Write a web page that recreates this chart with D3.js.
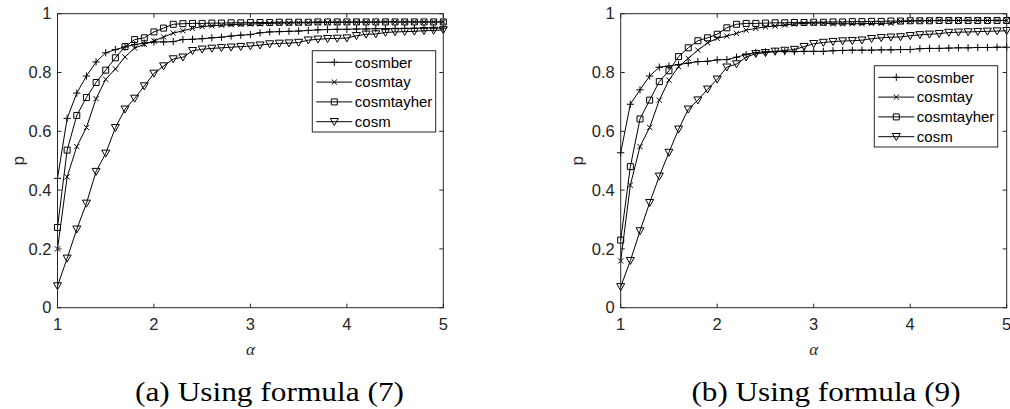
<!DOCTYPE html>
<html>
<head>
<meta charset="utf-8">
<script src="https://cdn.jsdelivr.net/npm/d3@7"></script>
<style>
body { margin: 0; background: #fff; }
</style>
</head>
<body>
<div id="chart"></div>
<script>
// two matlab style panels, p against alpha for four methods

var alpha = [1.0, 1.1, 1.2, 1.3, 1.4, 1.5, 1.6, 1.7, 1.8, 1.9,
             2.0, 2.1, 2.2, 2.3, 2.4, 2.5, 2.6, 2.7, 2.8, 2.9,
             3.0, 3.1, 3.2, 3.3, 3.4, 3.5, 3.6, 3.7, 3.8, 3.9,
             4.0, 4.1, 4.2, 4.3, 4.4, 4.5, 4.6, 4.7, 4.8, 4.9, 5.0];

var names = ["cosmber", "cosmtay", "cosmtayher", "cosm"];
var xTicks = [1, 2, 3, 4, 5];
var yTicks = [0, 0.2, 0.4, 0.6, 0.8, 1];
var captions = ["(a) Using formula (7)", "(b) Using formula (9)"];

// panel (a)
var berA = [0.440, 0.644, 0.730, 0.788, 0.836, 0.867, 0.878, 0.887, 0.895, 0.900, 0.904, 0.904, 0.905,
            0.912, 0.913, 0.915, 0.918, 0.920, 0.924, 0.927, 0.929,
            0.935, 0.938, 0.939, 0.940, 0.941, 0.943,
            0.945, 0.946, 0.947, 0.947, 0.948, 0.948, 0.949, 0.949, 0.950, 0.950, 0.950, 0.951, 0.951, 0.951];
var tayA = [0.200, 0.445, 0.548, 0.613, 0.711, 0.777, 0.812, 0.853, 0.883, 0.896, 0.907, 0.921, 0.934, 0.942, 0.950,
            0.956, 0.959, 0.961, 0.963, 0.964, 0.965, 0.966, 0.967, 0.968, 0.968, 0.969, 0.969, 0.970, 0.970,
            0.970, 0.971, 0.971, 0.971, 0.971, 0.972, 0.972, 0.972, 0.972, 0.972, 0.972, 0.972];
var herA = [0.273, 0.536, 0.654, 0.715, 0.766, 0.808, 0.850, 0.888, 0.912, 0.918, 0.938, 0.951, 0.964,
            0.966, 0.967, 0.967, 0.968, 0.968, 0.969, 0.969, 0.970, 0.970, 0.970, 0.971, 0.971, 0.971, 0.971,
            0.972, 0.972, 0.972, 0.972, 0.972, 0.972, 0.972, 0.972, 0.972, 0.972, 0.972, 0.972, 0.972, 0.972];
var cosmA = [0.074, 0.168, 0.267, 0.355, 0.463, 0.525, 0.612, 0.675, 0.712, 0.754, 0.797, 0.822, 0.846, 0.852,
             0.874, 0.879, 0.882, 0.884, 0.886, 0.888, 0.890,
             0.893, 0.897, 0.899, 0.900, 0.902,
             0.910, 0.913, 0.915, 0.916, 0.917,
             0.925, 0.930, 0.931,
             0.936, 0.938, 0.939, 0.940, 0.942, 0.943, 0.945];

// panel (b)
var berB = [0.527, 0.692, 0.741, 0.788, 0.818, 0.822, 0.827, 0.832, 0.837, 0.838, 0.843, 0.844, 0.852, 0.861, 0.868,
            0.870, 0.871, 0.871, 0.871, 0.872, 0.872, 0.872,
            0.874, 0.875, 0.876, 0.876, 0.876, 0.877, 0.877, 0.878, 0.878,
            0.881, 0.882, 0.882, 0.883, 0.884, 0.884, 0.885, 0.885, 0.886, 0.886];
var tayB = [0.159, 0.417, 0.548, 0.613, 0.706, 0.774, 0.820, 0.848, 0.876, 0.901, 0.916, 0.924, 0.933, 0.944, 0.950,
            0.955, 0.958, 0.962, 0.965, 0.967, 0.968, 0.968, 0.966, 0.966, 0.966, 0.966, 0.967, 0.967, 0.968,
            0.973, 0.975, 0.976, 0.976, 0.977, 0.977, 0.977, 0.977, 0.977, 0.977, 0.977, 0.977];
var herB = [0.230, 0.480, 0.642, 0.706, 0.769, 0.806, 0.854, 0.884, 0.908, 0.918, 0.930, 0.952, 0.964, 0.967, 0.967,
            0.968, 0.969, 0.969, 0.970, 0.970, 0.971, 0.971, 0.972, 0.972, 0.973, 0.973, 0.974, 0.974,
            0.975, 0.975, 0.976, 0.976, 0.976, 0.977, 0.977, 0.977, 0.977, 0.977, 0.977, 0.977, 0.977];
var cosmB = [0.071, 0.160, 0.261, 0.357, 0.447, 0.528, 0.607, 0.675, 0.706, 0.743, 0.777, 0.818, 0.829, 0.852, 0.864,
             0.867, 0.872, 0.875, 0.878, 0.888, 0.898,
             0.902, 0.905, 0.907, 0.908, 0.910,
             0.915, 0.918, 0.920, 0.921, 0.925,
             0.928, 0.930, 0.932,
             0.936, 0.937, 0.938, 0.939, 0.940, 0.941, 0.942];

var width = 1010, height = 409;
var axCol = "#262626";
var sans = "Liberation Sans, Arial, Helvetica, sans-serif";
var serif = "Liberation Serif, Times New Roman, Times, serif";

var panels = [
  {left: 57.5, right: 443.3, legX: 312.3, legY: 50.7, labX: 24.3,
   series: [berA, tayA, herA, cosmA], caption: captions[0], capX: 269.5},
  {left: 620.7, right: 1006.7, legX: 874.3, legY: 65.7, labX: 583.4,
   series: [berB, tayB, herB, cosmB], caption: captions[1], capX: 826}
];
var plotTop = 13.7, plotBottom = 307.7;

var svg = d3.select("div#chart")
    .append("svg")
    .attr("width", width)
    .attr("height", height);

// marker shapes, one per series
var markers = [
  "M-3.6,0H3.6M0,-3.6V3.6",
  "M-2.6,-2.6L2.6,2.6M-2.6,2.6L2.6,-2.6",
  "M-3,-3H3V3H-3Z",
  "M-4,-3.2H4L0,3.8Z"
];

function drawMarker(g, k, x, y) {
  g.append("path")
    .attr("d", markers[k])
    .attr("transform", "translate(" + x + "," + y + ")")
    .attr("fill", "none")
    .attr("stroke", "#000")
    .attr("stroke-width", 1);
}

panels.forEach(function(p) {
  var x = d3.scaleLinear().domain([1, 5]).range([p.left, p.right]);
  var y = d3.scaleLinear().domain([0, 1]).range([plotBottom, plotTop]);
  var g = svg.append("g");

  // data lines + markers
  var line = d3.line()
      .x((d, i) => x(alpha[i]))
      .y((d) => y(d));

  p.series.forEach(function(vals, k) {
    g.append("path")
      .datum(vals)
      .attr("d", line)
      .attr("fill", "none")
      .attr("stroke", "#000")
      .attr("stroke-width", 1);
    vals.forEach(function(v, i) { drawMarker(g, k, x(alpha[i]), y(v)); });
  });

  // box with inward ticks on all four sides
  g.append("rect")
    .attr("x", p.left).attr("y", plotTop)
    .attr("width", p.right - p.left).attr("height", plotBottom - plotTop)
    .attr("fill", "none").attr("stroke", axCol).attr("stroke-width", 1);

  var tl = 4;
  xTicks.forEach(function(t) {
    g.append("line").attr("x1", x(t)).attr("x2", x(t)).attr("y1", plotBottom).attr("y2", plotBottom - tl)
      .attr("stroke", axCol);
    g.append("line").attr("x1", x(t)).attr("x2", x(t)).attr("y1", plotTop).attr("y2", plotTop + tl)
      .attr("stroke", axCol);
    g.append("text").attr("x", x(t)).attr("y", 330)
      .attr("text-anchor", "middle")
      .attr("font-family", sans).attr("font-size", 16.5).attr("fill", axCol)
      .text(t);
  });
  yTicks.forEach(function(t) {
    g.append("line").attr("x1", p.left).attr("x2", p.left + tl).attr("y1", y(t)).attr("y2", y(t))
      .attr("stroke", axCol);
    g.append("line").attr("x1", p.right).attr("x2", p.right - tl).attr("y1", y(t)).attr("y2", y(t))
      .attr("stroke", axCol);
    g.append("text").attr("x", p.left - 6).attr("y", y(t))
      .attr("dy", "0.35em")
      .attr("text-anchor", "end")
      .attr("font-family", sans).attr("font-size", 16.5).attr("fill", axCol)
      .text(t);
  });

  // axis labels
  g.append("text")
    .attr("transform", "translate(" + p.labX + "," + ((plotTop + plotBottom) / 2) + ") rotate(-90)")
    .attr("text-anchor", "middle")
    .attr("font-family", sans).attr("font-size", 17).attr("fill", axCol)
    .text("p");
  g.append("text")
    .attr("x", (p.left + p.right) / 2).attr("y", 355)
    .attr("text-anchor", "middle")
    .attr("font-family", serif).attr("font-style", "italic").attr("font-size", 17).attr("fill", axCol)
    .text("α");

  // legend
  var lg = g.append("g").attr("transform", "translate(" + p.legX + "," + p.legY + ")");
  lg.append("rect").attr("width", 123.4).attr("height", 81.3)
    .attr("fill", "#fff").attr("stroke", axCol).attr("stroke-width", 1);
  names.forEach(function(n, k) {
    var ry = 11.6 + k * 19.8;
    lg.append("line").attr("x1", 4).attr("x2", 40).attr("y1", ry).attr("y2", ry)
      .attr("stroke", "#000").attr("stroke-width", 1);
    drawMarker(lg, k, 22, ry);
    lg.append("text").attr("x", 42.5).attr("y", ry).attr("dy", "0.35em")
      .attr("font-family", sans).attr("font-size", 15).attr("fill", "#000")
      .text(n);
  });

  // caption under the panel
  g.append("text")
    .attr("x", p.capX).attr("y", 401)
    .attr("text-anchor", "middle")
    .attr("font-family", serif).attr("font-size", 28).attr("fill", "#000")
    .attr("textLength", 269).attr("lengthAdjust", "spacingAndGlyphs")
    .text(p.caption);
});
</script>
</body>
</html>
